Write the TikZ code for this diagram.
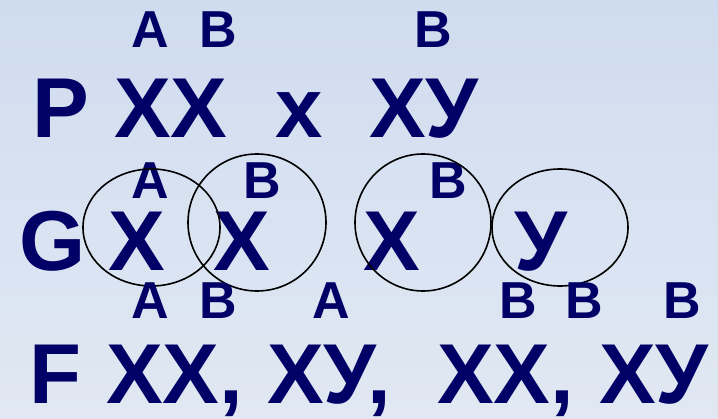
\documentclass[tikz,border=0pt]{standalone}
\usepackage{fontspec}
\setmainfont{Liberation Sans}
\definecolor{navy}{HTML}{000066}
\definecolor{bgtop}{HTML}{CFDCEF}
\definecolor{bgbot}{HTML}{E1E8F3}
\tikzset{
  big/.style={anchor=base west, inner sep=0pt, text=navy, font=\fontsize{85}{85}\selectfont\bfseries},
  small/.style={anchor=base west, inner sep=0pt, text=navy, font=\fontsize{52}{52}\selectfont\bfseries},
  ring/.style={draw=black, line width=1.6pt}
}
\begin{document}
\begin{tikzpicture}[x=1pt,y=1pt]
\shade[top color=bgtop, bottom color=bgbot] (0,0) rectangle (718,418);
\useasboundingbox (0,0) rectangle (718,418);
% row P
\node[small] (pa) at (131,370) {A};
\node[small] (pb) at (199,370) {B};
\node[small] (pb2) at (414,370) {B};
\node[big] (p) at (32,280) {P};
\node[big] (pxx) at (114,280) {XX};
\node[big] (px) at (275,280) {x};
\node[big] (pxy) at (369,280) {XУ};
% row G
\node[small] (ga) at (131,219) {A};
\node[small] (gb) at (243,219) {B};
\node[small] (gb2) at (429,219) {B};
\node[big] (g) at (19,147) {G};
\node[big] (gx1) at (108,147) {X};
\node[big] (gx2) at (213,147) {X};
\node[big] (gx3) at (363,147) {X};
\node[big] (gy) at (514,147) {У};
\draw[ring] (151.5,190.5) ellipse [x radius=68.5, y radius=58.5];
\draw[ring] (257,195.5) ellipse [x radius=69, y radius=68.5];
\draw[ring] (423,195.5) ellipse [x radius=68, y radius=68.5];
\draw[ring] (560,190.5) ellipse [x radius=68, y radius=58.5];
% row F
\node[small] (fa) at (131,99) {A};
\node[small] (fb) at (199,99) {B};
\node[small] (fa2) at (312,99) {A};
\node[small] (fb2) at (499,99) {B};
\node[small] (fb3) at (565,99) {B};
\node[small] (fb4) at (663,99) {B};
\node[big] (f) at (29,15) {F};
\node[big] (fxx) at (106,15) {XX,};
\node[big] (fxy) at (267,15) {XУ,};
\node[big] (fxx2) at (437,15) {XX,};
\node[big] (fxy2) at (599,15) {XУ};
\end{tikzpicture}
\end{document}
